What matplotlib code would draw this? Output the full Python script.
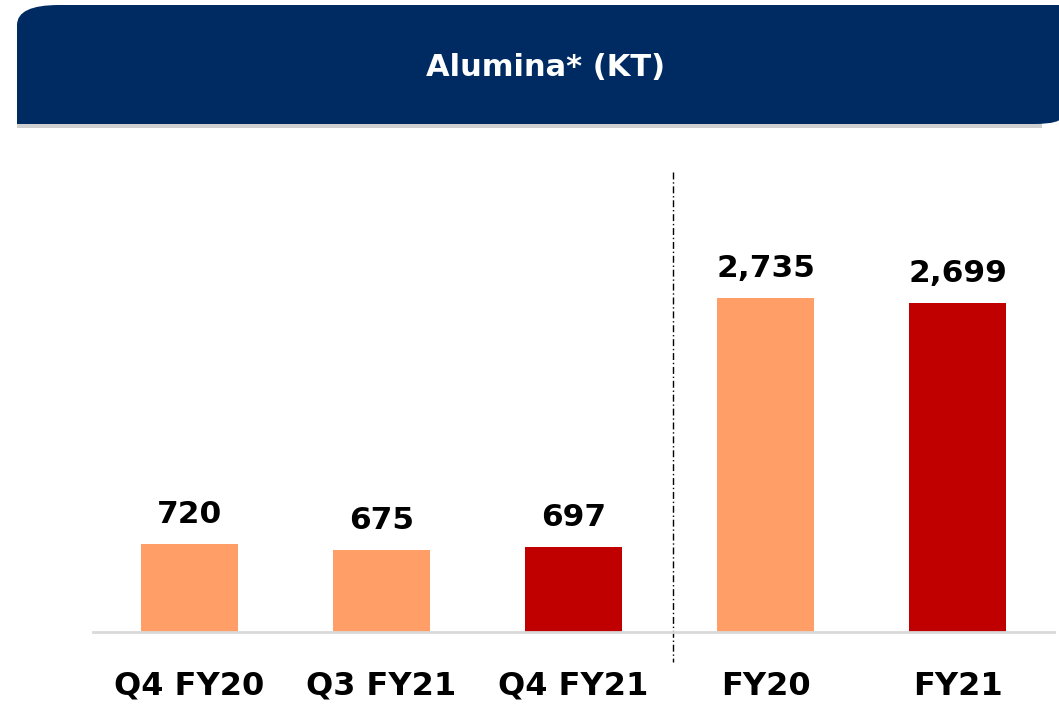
import matplotlib
matplotlib.use('Agg')
import matplotlib.pyplot as plt
from matplotlib.path import Path
from matplotlib.patches import PathPatch, Rectangle

# Alumina production, KT
categories = ['Q4 FY20', 'Q3 FY21', 'Q4 FY21', 'FY20', 'FY21']
values = [720, 675, 697, 2735, 2699]
bar_colors = ['#FF9E66', '#FF9E66', '#C00000', '#FF9E66', '#C00000']
title = 'Alumina* (KT)'

W, H = 1059, 706
plt.rcParams['font.family'] = ['DejaVu Sans']
fig = plt.figure(figsize=(W / 100, H / 100), dpi=100)

# background layer in pixel coordinates (y downwards) for the header banner
bg = fig.add_axes([0, 0, 1, 1])
bg.set_xlim(0, W)
bg.set_ylim(H, 0)
bg.axis('off')

# grey shadow under the banner
bg.add_patch(Rectangle((17, 122), 1025, 6, color='#D0D0D0', lw=0))

# banner with rounded top-left and bottom-right corners
x0, x1, y0, y1 = 17, 1062, 5, 124
verts = [
    (x0, y1), (x0, y0 + 20), (x0, y0), (x0 + 42, y0),
    (x1, y0), (x1, y1 - 8), (x1, y1), (x1 - 28, y1),
    (x0, y1),
]
codes = [Path.MOVETO, Path.LINETO, Path.CURVE3, Path.CURVE3,
         Path.LINETO, Path.LINETO, Path.CURVE3, Path.CURVE3,
         Path.CLOSEPOLY]
bg.add_patch(PathPatch(Path(verts, codes), facecolor='#002B62', edgecolor='none'))
bg.text(546, 67, title, color='white', fontsize=22, fontweight='bold',
        ha='center', va='center')

# bar chart
ax = fig.add_axes([93 / W, (H - 632) / H, (1054 - 93) / W, 427 / H])
x = range(len(categories))
ax.bar(x, values, width=0.505, color=bar_colors, zorder=2)
ax.set_xlim(-0.5, 4.5)
ax.set_ylim(0, 3500)
for i, v in enumerate(values):
    ax.annotate(f'{v:,}', (i, v), xytext=(0, 15), textcoords='offset points',
                ha='center', va='baseline', fontsize=22.5, fontweight='bold')

for side in ['top', 'right', 'left']:
    ax.spines[side].set_visible(False)
ax.spines['bottom'].set_color('#D9D9D9')
ax.spines['bottom'].set_linewidth(2)
ax.set_yticks([])
ax.set_xticks(list(x))
ax.set_xticklabels(categories, fontsize=23, fontweight='bold')
ax.tick_params(axis='x', length=0, pad=28)
ax.set_facecolor('none')

# dash-dot separator between quarterly and annual figures
bg.plot([673, 673], [172, 662], color='black', lw=1, linestyle=(0, (5, 2, 1, 2)))

plt.savefig('out.png', dpi=100)
plt.close(fig)
